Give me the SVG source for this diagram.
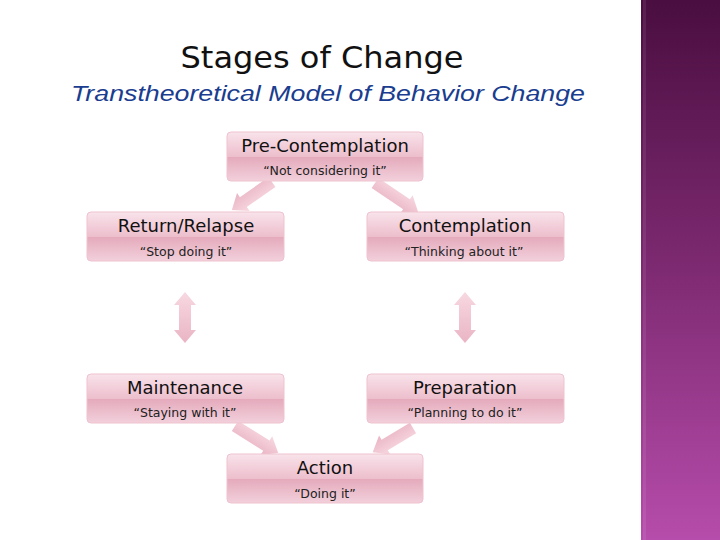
<svg xmlns="http://www.w3.org/2000/svg" width="720" height="540" viewBox="0 0 720 540">
<defs>
<linearGradient id="side" x1="0" y1="0" x2="0" y2="1">
<stop offset="0" stop-color="#4a0e40"/>
<stop offset="0.5" stop-color="#7e2a72"/>
<stop offset="1" stop-color="#b64cab"/>
</linearGradient>
<linearGradient id="box" x1="0" y1="0" x2="0" y2="1">
<stop offset="0" stop-color="#f9e3ea"/>
<stop offset="0.5" stop-color="#edbfcd"/>
<stop offset="0.52" stop-color="#e5abbd"/>
<stop offset="1" stop-color="#f2d0db"/>
</linearGradient>
<linearGradient id="arr" x1="0" y1="0" x2="0" y2="1">
<stop offset="0" stop-color="#f6d2dc"/>
<stop offset="1" stop-color="#e6a7ba"/>
</linearGradient>
</defs>
<style>
.bx{fill:url(#box);stroke:#eec3cf;stroke-width:1}
.t{font-family:"DejaVu Sans","Liberation Sans",sans-serif;font-size:18px;fill:#111;text-anchor:middle}
.q{font-family:"DejaVu Sans","Liberation Sans",sans-serif;font-size:12.5px;fill:#222;text-anchor:middle}
.ar{fill:url(#arr);opacity:0.85}
</style>
<rect x="0" y="0" width="720" height="540" fill="#ffffff"/>
<rect x="641" y="0" width="79" height="540" fill="url(#side)"/>
<rect x="643" y="0" width="3" height="540" fill="#ffffff" opacity="0.08"/>
<text x="322" y="68" font-family="DejaVu Sans, Liberation Sans, sans-serif" font-size="31" fill="#111" text-anchor="middle" textLength="283" lengthAdjust="spacingAndGlyphs">Stages of Change</text>
<text x="328" y="101" font-family="Liberation Sans, Arial, sans-serif" font-size="22.5" font-style="italic" fill="#1a3d8f" text-anchor="middle" textLength="514" lengthAdjust="spacingAndGlyphs">Transtheoretical Model of Behavior Change</text>
<g id="connectors">
<path class="ar" transform="translate(272,182) rotate(145)" d="M0,-6 L35,-6 L35,-11 L49,0 L35,11 L35,6 L0,6 Z"/>
<path class="ar" transform="translate(375,183) rotate(34)" d="M0,-6 L38,-6 L38,-11 L52,0 L38,11 L38,6 L0,6 Z"/>
<path class="ar" d="M185,292 L196,305 L191,305 L191,330 L196,330 L185,343 L174,330 L179,330 L179,305 L174,305 Z"/>
<path class="ar" d="M465,292 L476,305 L471,305 L471,330 L476,330 L465,343 L454,330 L459,330 L459,305 L454,305 Z"/>
<path class="ar" transform="translate(235,426) rotate(32)" d="M0,-6 L37,-6 L37,-11 L51,0 L37,11 L37,6 L0,6 Z"/>
<path class="ar" transform="translate(413,428) rotate(149)" d="M0,-6 L33,-6 L33,-11 L47,0 L33,11 L33,6 L0,6 Z"/>
</g>
<g id="precontemplation">
<rect class="bx" x="227" y="132" width="196" height="49" rx="4"/>
<text class="t" x="325" y="152">Pre-Contemplation</text>
<text class="q" x="325" y="175">“Not considering it”</text>
</g>
<g id="relapse">
<rect class="bx" x="87" y="212" width="197" height="49" rx="4"/>
<text class="t" x="186" y="232">Return/Relapse</text>
<text class="q" x="186" y="256">“Stop doing it”</text>
</g>
<g id="contemplation">
<rect class="bx" x="367" y="212" width="197" height="49" rx="4"/>
<text class="t" x="465" y="232">Contemplation</text>
<text class="q" x="464" y="256">“Thinking about it”</text>
</g>
<g id="maintenance">
<rect class="bx" x="87" y="374" width="197" height="49" rx="4"/>
<text class="t" x="185" y="394">Maintenance</text>
<text class="q" x="185" y="417">“Staying with it”</text>
</g>
<g id="preparation">
<rect class="bx" x="367" y="374" width="197" height="49" rx="4"/>
<text class="t" x="465" y="394">Preparation</text>
<text class="q" x="465" y="417">“Planning to do it”</text>
</g>
<g id="action">
<rect class="bx" x="227" y="454" width="196" height="49" rx="4"/>
<text class="t" x="325" y="474">Action</text>
<text class="q" x="325" y="498">“Doing it”</text>
</g>
</svg>
